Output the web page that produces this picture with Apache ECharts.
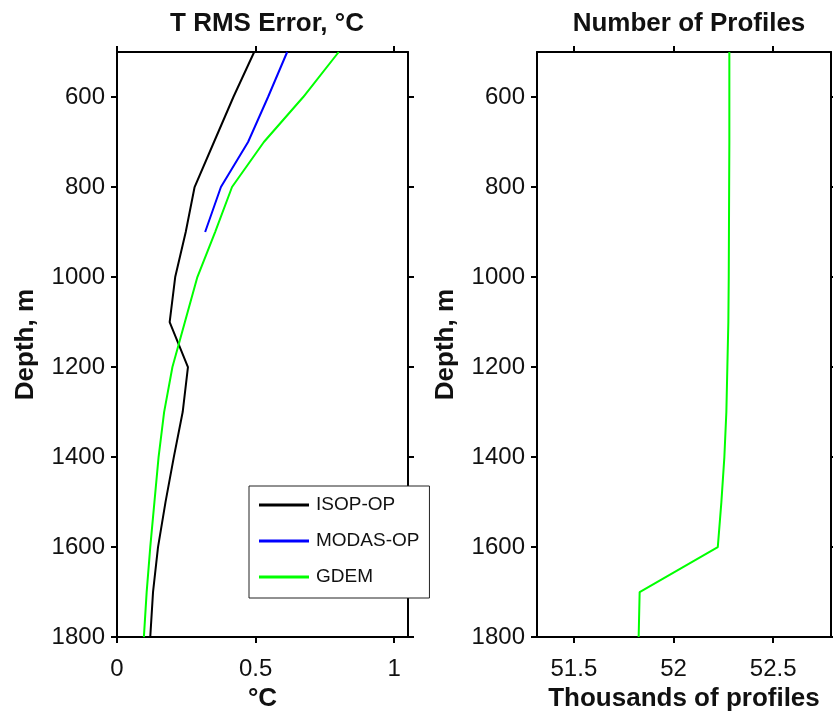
<!DOCTYPE html>
<html>
<head>
<meta charset="utf-8">
<script src="https://cdn.jsdelivr.net/npm/echarts@6/dist/echarts.min.js"></script>
<style>html,body{margin:0;padding:0;background:#fff}#c{width:833px;height:717px}</style>
</head>
<body>
<div id="c"></div>
<script>
// ---- data ----
const depths = [500, 600, 700, 800, 900, 1000, 1100, 1200, 1300, 1400, 1500, 1600, 1700, 1800];
const isopOp = [0.495, 0.42, 0.35, 0.28, 0.248, 0.21, 0.19, 0.256, 0.237, 0.205, 0.175, 0.148, 0.13, 0.12];
const modasDepths = [500, 600, 700, 800, 900];
const modasOp = [0.614, 0.545, 0.473, 0.375, 0.318];
const gdem = [0.80, 0.672, 0.53, 0.415, 0.354, 0.29, 0.245, 0.20, 0.17, 0.15, 0.135, 0.12, 0.107, 0.097];
const profiles = [52.28, 52.28, 52.28, 52.279, 52.278, 52.277, 52.275, 52.27, 52.265, 52.255, 52.24, 52.222, 51.83, 51.825];
const depthTicks = [600, 800, 1000, 1200, 1400, 1600, 1800];
const errTicks = [0, 0.5, 1];
const profTicks = [51.5, 52, 52.5];
const seriesNames = ['ISOP-OP', 'MODAS-OP', 'GDEM'];

const FONT = 'Liberation Sans, Arial, Helvetica, sans-serif';
const lineStyle = { color: '#000', width: 2 };
const nameStyle = { fontFamily: FONT, fontSize: 26, fontWeight: 'bold', color: '#111' };

function pairs(xs, ys) { return xs.map((v, i) => [v, ys[i]]); }

function xAxes(gi, min, max, ticks, name) {
  return [{
    type: 'value', gridIndex: gi, position: 'bottom', min: min, max: max,
    name: name, nameLocation: 'middle', nameGap: 46,
    nameTextStyle: nameStyle,
    axisLine: { show: true, onZero: false, lineStyle: lineStyle },
    axisTick: { show: true, inside: false, length: 6, lineStyle: lineStyle, customValues: ticks },
    axisLabel: { show: true, margin: 20, fontFamily: FONT, fontSize: 24, color: '#111', customValues: ticks,
      formatter: v => String(v) },
    splitLine: { show: false }
  }, {
    type: 'value', gridIndex: gi, position: 'top', min: min, max: max,
    axisLine: { show: true, onZero: false, lineStyle: lineStyle },
    axisTick: { show: true, inside: false, length: 6, lineStyle: lineStyle, customValues: ticks },
    axisLabel: { show: false },
    splitLine: { show: false }
  }];
}
function yAxes(gi) {
  return [{
    type: 'value', gridIndex: gi, position: 'left', min: 500, max: 1800, inverse: true,
    name: 'Depth, m', nameLocation: 'middle', nameGap: 78, nameRotate: 90,
    nameTextStyle: nameStyle,
    axisLine: { show: true, onZero: false, lineStyle: lineStyle },
    axisTick: { show: true, inside: false, length: 6, lineStyle: lineStyle, customValues: depthTicks },
    axisLabel: { show: true, margin: 12, fontFamily: FONT, fontSize: 24, color: '#111', customValues: depthTicks,
      formatter: v => String(v) },
    splitLine: { show: false }
  }, {
    type: 'value', gridIndex: gi, position: 'right', min: 500, max: 1800, inverse: true,
    axisLine: { show: true, onZero: false, lineStyle: lineStyle },
    axisTick: { show: true, inside: false, length: 6, lineStyle: lineStyle, customValues: depthTicks },
    axisLabel: { show: false },
    splitLine: { show: false }
  }];
}

const chart = echarts.init(document.getElementById('c'), null, { renderer: 'canvas' });
chart.setOption({
  animation: false,
  backgroundColor: '#fff',
  title: [
    { text: 'T RMS Error, °C', left: 262, top: 6, textAlign: 'center',
      textStyle: { fontFamily: FONT, fontSize: 26, fontWeight: 'bold', color: '#111' } },
    { text: 'Number of Profiles', left: 684, top: 6, textAlign: 'center',
      textStyle: { fontFamily: FONT, fontSize: 26, fontWeight: 'bold', color: '#111' } }
  ],
  grid: [
    { left: 117, top: 52, width: 291, height: 586 },
    { left: 537, top: 52, width: 294, height: 586 }
  ],
  xAxis: [].concat(xAxes(0, 0, 1.05, errTicks, '°C'), xAxes(1, 51.315, 52.79, profTicks, 'Thousands of profiles')),
  yAxis: [].concat(yAxes(0), yAxes(1)),
  legend: {
    data: seriesNames,
    orient: 'vertical',
    left: 249, top: 486,
    icon: 'rect', itemWidth: 50, itemHeight: 3, itemGap: 16,
    padding: [9, 10, 11, 10],
    backgroundColor: '#fff', borderColor: '#222', borderWidth: 1, borderRadius: 0,
    textStyle: { fontFamily: FONT, fontSize: 19, color: '#111', lineHeight: 20, padding: [0, 0, 0, 2] },
    z: 10
  },
  series: [
    { name: seriesNames[0], type: 'line', xAxisIndex: 0, yAxisIndex: 0, showSymbol: false, symbol: 'none',
      color: '#000', lineStyle: { color: '#000', width: 2 }, data: pairs(isopOp, depths) },
    { name: seriesNames[1], type: 'line', xAxisIndex: 0, yAxisIndex: 0, showSymbol: false, symbol: 'none',
      color: '#0000ff', lineStyle: { color: '#0000ff', width: 2 }, data: pairs(modasOp, modasDepths) },
    { name: seriesNames[2], type: 'line', xAxisIndex: 0, yAxisIndex: 0, showSymbol: false, symbol: 'none',
      color: '#00ff00', lineStyle: { color: '#00ff00', width: 2 }, data: pairs(gdem, depths) },
    { name: 'profiles', type: 'line', xAxisIndex: 2, yAxisIndex: 2, showSymbol: false, symbol: 'none',
      color: '#00ff00', lineStyle: { color: '#00ff00', width: 2 }, data: pairs(profiles, depths) }
  ]
});
</script>
</body>
</html>
